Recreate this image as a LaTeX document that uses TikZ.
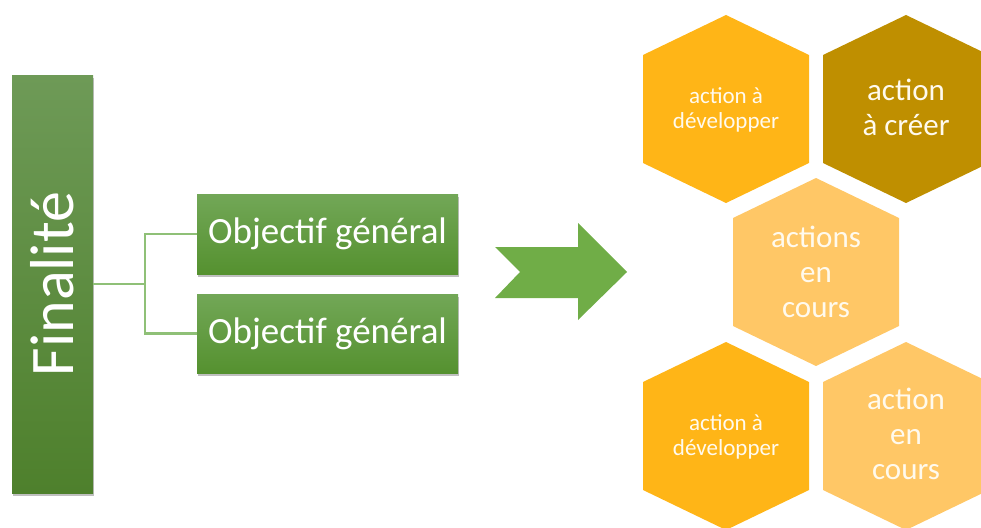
\documentclass[tikz,border=0pt]{standalone}
\usepackage{fontspec}
\setmainfont{Carlito}
\usetikzlibrary{shadows}
\definecolor{fintop}{HTML}{6E9A57}
\definecolor{finbot}{HTML}{4E802C}
\definecolor{objtop}{HTML}{72A757}
\definecolor{objbot}{HTML}{55912F}
\definecolor{linkc}{HTML}{8FC077}
\definecolor{arrowc}{HTML}{70AD47}
\definecolor{hexA}{HTML}{FFB517}
\definecolor{hexB}{HTML}{BF8F00}
\definecolor{hexC}{HTML}{FFC766}
\definecolor{hextext}{HTML}{FFFAEE}
\newcommand\hexshape[3]{\fill[#3] (#1,#2-94) -- (#1+83,#2-54) -- (#1+83,#2+54) -- (#1,#2+94) -- (#1-83,#2+54) -- (#1-83,#2-54) -- cycle;}
\begin{document}
\begin{tikzpicture}[x=1pt,y=-1pt,
  softshadow/.style={drop shadow={shadow xshift=1pt,shadow yshift=-3pt,fill=black,opacity=0.25}},
  finbox/.style={draw=none,top color=fintop,bottom color=finbot,minimum width=81pt,minimum height=418pt,inner sep=0pt,softshadow},
  objbox/.style={draw=none,top color=objtop,bottom color=objbot,minimum width=261pt,inner sep=0pt,softshadow,
    text=white,font=\fontsize{37}{40}\selectfont},
  link/.style={draw=linkc,line width=2.5pt},
  hexsmall/.style={text=hextext,align=center,font=\fontsize{23}{25.5}\selectfont},
  hexbig/.style={text=hextext,align=center,font=\fontsize{31}{35}\selectfont}]
\useasboundingbox (0,0) rectangle (981,527);
% left part
\node[finbox] (fin) at (52.5,284) {};
\node[rotate=90,text=white,font=\fontsize{62}{70}\selectfont] (fintxt) at (fin.center) {Finalité};
\node[objbox,minimum height=80pt] (o1) at (327.5,234) {Objectif général};
\node[objbox,minimum height=79pt] (o2) at (327.5,333.5) {Objectif général};
\coordinate (br) at (145,284);
\draw[link] (fin.east |- br) -- (br);
\draw[link] (br) |- (o1.west);
\draw[link] (br) |- (o2.west);
% arrow
\fill[arrowc] (495,247) -- (578,247) -- (578,223) -- (627,272) -- (578,320) -- (578,298) -- (495,298) -- (520,272) -- cycle;
% hexagons
\begin{scope}
\clip (0,0) rectangle (981,527);
\hexshape{726}{109}{hexA}
\hexshape{906}{109}{hexB}
\hexshape{816}{272}{hexC}
\hexshape{726}{436}{hexA}
\hexshape{906}{436}{hexC}
\end{scope}
\node[hexsmall] (h1) at (726,110) {action à\\développer};
\node[hexbig] (h2) at (906,107) {action\\à créer};
\node[hexbig] (h3) at (816,272) {actions\\en\\cours};
\node[hexsmall] (h4) at (726,437) {action à\\développer};
\node[hexbig] (h5) at (906,434) {action\\en\\cours};
\end{tikzpicture}
\end{document}
